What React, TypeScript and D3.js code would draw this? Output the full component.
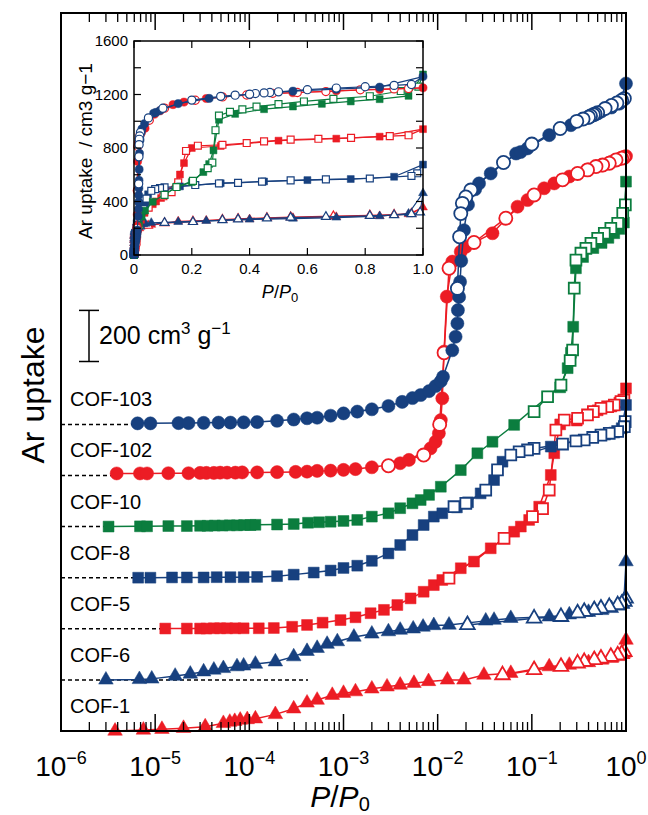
import React from "react";
import * as d3 from "d3";

type Pt = [number, number];

// ---- data: [P/P0, Ar uptake (cm3 g-1)] ----
const cof103Ads: Pt[] = [
  [6.5e-6, 4], [8.9e-6, 4], [1.77e-5, 5], [2.26e-5, 5], [3.27e-5, 6], [4.7e-5, 7], [6.3e-5, 7], [8.7e-5, 8],
  [1.21e-4, 9], [1.97e-4, 14], [2.96e-4, 19], [4.1e-4, 24], [5.25e-4, 26], [7.3e-4, 34], [1.0e-3, 43], [1.4e-3, 50],
  [2.0e-3, 59], [3.0e-3, 72], [4.2e-3, 88], [5.4e-3, 103], [6.6e-3, 115], [8.1e-3, 130], [9.5e-3, 150], [0.0108, 169],
  [0.0114, 186], [0.0143, 290], [0.0155, 343], [0.0162, 395], [0.0164, 447], [0.0169, 499], [0.0173, 558], [0.0178, 640],
  [0.019, 760], [0.021, 860], [0.025, 920], [0.0275, 943], [0.0366, 982], [0.068, 1060], [0.076, 1066], [0.09, 1080],
  [0.153, 1132], [0.26, 1171], [0.4, 1200], [0.55, 1225], [0.7, 1240], [0.85, 1255], [1.0, 1334],
];
const cof103Des: Pt[] = [
  [0.96, 1275], [0.9, 1268], [0.8, 1258], [0.7, 1248], [0.6, 1236], [0.5, 1220], [0.47, 1215], [0.45, 1212],
  [0.42, 1207], [0.4, 1202], [0.35, 1195], [0.3, 1186], [0.2, 1158], [0.1, 1097], [0.05, 1025], [0.0225, 917],
  [0.0199, 890], [0.0183, 865], [0.0176, 825], [0.0171, 734], [0.0162, 532],
];
const cof102Ads: Pt[] = [
  [3.9e-6, 8], [6.9e-6, 8], [8.2e-6, 8], [1.38e-5, 9], [2.26e-5, 9], [3.0e-5, 10], [3.5e-5, 10], [4.2e-5, 10],
  [4.9e-5, 11], [5.8e-5, 11], [7.1e-5, 11], [8.4e-5, 12], [1.21e-4, 12], [1.97e-4, 13], [3.1e-4, 14], [4.1e-4, 15],
  [5.25e-4, 18], [7.3e-4, 19], [1.0e-3, 22], [1.34e-3, 25], [2.0e-3, 32], [4.0e-3, 48], [4.95e-3, 61], [8.4e-3, 106],
  [9.5e-3, 132], [0.0103, 165], [0.0108, 217], [0.0112, 302], [0.0117, 485], [0.0125, 700], [0.0143, 837], [0.0176, 876],
  [0.0199, 895], [0.0382, 948], [0.0705, 1052], [0.09, 1078], [0.135, 1124], [0.173, 1143], [0.25, 1170], [0.4, 1198],
  [0.55, 1213], [0.7, 1228], [0.85, 1238], [1.0, 1250],
];
const cof102Des: Pt[] = [
  [0.95, 1245], [0.9, 1242], [0.783, 1235], [0.664, 1222], [0.565, 1215], [0.48, 1209], [0.39, 1196], [0.306, 1182],
  [0.212, 1157], [0.1057, 1098], [0.0529, 1007], [0.0243, 912], [0.0132, 811], [0.0117, 480], [0.0105, 200],
  [7.1e-3, 80], [3.0e-3, 38],
];
const cof10Ads: Pt[] = [
  [3.2e-6, 0], [6.9e-6, 1], [8.2e-6, 1], [1.38e-5, 2], [2.17e-5, 2], [3.0e-5, 3], [3.6e-5, 3], [4.3e-5, 4],
  [5.2e-5, 4], [6.2e-5, 5], [7.4e-5, 5], [8.8e-5, 6], [1.03e-4, 6], [1.16e-4, 7], [1.97e-4, 8], [2.96e-4, 10],
  [4.2e-4, 15], [5.5e-4, 17], [7.3e-4, 19], [1.0e-3, 22], [1.4e-3, 26], [2.0e-3, 39], [3.0e-3, 52], [4.0e-3, 72],
  [5.4e-3, 91], [6.6e-3, 104], [8.1e-3, 124], [0.0108, 156], [0.0176, 221], [0.0264, 287], [0.0382, 332], [0.0649, 398],
  [0.147, 508], [0.2, 545], [0.24, 620], [0.26, 680], [0.275, 782], [0.294, 1011], [0.35, 1055], [0.45, 1090],
  [0.55, 1110], [0.65, 1130], [0.75, 1148], [0.85, 1165], [0.95, 1190], [1.0, 1350],
];
const cof10Des: Pt[] = [
  [0.984, 1259], [0.923, 1226], [0.816, 1187], [0.69, 1167], [0.588, 1148], [0.5, 1128], [0.424, 1109], [0.375, 1089],
  [0.332, 1070], [0.294, 1043], [0.282, 933], [0.271, 691], [0.255, 650], [0.204, 554], [0.147, 508], [0.1057, 450],
];
const cof8Ads: Pt[] = [
  [6.6e-6, 0], [8.9e-6, 0], [1.51e-5, 1], [2.17e-5, 1], [3.27e-5, 1], [4.5e-5, 2], [6.3e-5, 2], [8.7e-5, 2],
  [1.21e-4, 3], [1.97e-4, 6], [2.96e-4, 12], [4.83e-4, 20], [7.3e-4, 28], [1.0e-3, 38], [1.4e-3, 47], [2.0e-3, 66],
  [3.0e-3, 95], [4.0e-3, 128], [5.4e-3, 167], [7.1e-3, 206], [9.1e-3, 239], [0.0112, 252], [0.016, 275], [0.021, 295],
  [0.0286, 330], [0.0397, 382], [0.0488, 454], [0.159, 513], [0.3, 537], [0.45, 550], [0.6, 560], [0.75, 568],
  [0.9, 585], [1.0, 676],
];
const cof8Des: Pt[] = [
  [0.98, 611], [0.96, 591], [0.816, 572], [0.664, 565], [0.542, 558], [0.443, 549], [0.36, 539], [0.294, 535],
  [0.212, 523], [0.1057, 506], [0.09, 500], [0.0733, 493], [0.0598, 480], [0.0432, 422], [0.0324, 343], [0.0199, 291],
  [0.0149, 278],
];
const cof5Ads: Pt[] = [
  [1.28e-5, 1], [2.17e-5, 1], [3.0e-5, 1], [3.5e-5, 1], [4.2e-5, 2], [4.9e-5, 2], [5.8e-5, 2], [7.1e-5, 2],
  [8.7e-5, 2], [1.26e-4, 2], [1.82e-4, 3], [2.85e-4, 8], [4.1e-4, 15], [6.0e-4, 24], [9.3e-4, 34], [1.34e-3, 45],
  [1.94e-3, 61], [2.69e-3, 74], [3.73e-3, 93], [5.16e-3, 119], [7.1e-3, 145], [9.1e-3, 171], [0.0112, 191], [0.0176, 237],
  [0.0243, 263], [0.0366, 315], [0.0649, 380], [0.0764, 400], [0.0936, 426], [0.1197, 478], [0.159, 602], [0.173, 687],
  [0.2, 800], [0.3, 815], [0.5, 855], [0.7, 870], [0.85, 885], [1.0, 941],
];
const cof5Des: Pt[] = [
  [0.95, 895], [0.885, 889], [0.751, 876], [0.638, 869], [0.542, 863], [0.45, 850], [0.39, 837], [0.306, 824],
  [0.221, 817], [0.18, 778], [0.153, 543], [0.13, 470], [0.1016, 439], [0.0507, 354], [0.0132, 198],
];
const cof6Ads: Pt[] = [
  [3.0e-6, 0], [6.8e-6, 2], [9.2e-6, 4], [1.63e-5, 15], [2.36e-5, 23], [3.27e-5, 32], [4.2e-5, 39], [5.3e-5, 45],
  [7.4e-5, 52], [8.7e-5, 55], [1.16e-4, 62], [1.89e-4, 71], [2.96e-4, 91], [4.1e-4, 112], [5.25e-4, 124], [6.7e-4, 140],
  [8.6e-4, 150], [1.29e-3, 168], [2.0e-3, 180], [3.0e-3, 189], [4.0e-3, 195], [5.5e-3, 200], [7.0e-3, 207], [9.1e-3, 213],
  [0.0132, 215], [0.0324, 231], [0.0397, 234], [0.0598, 241], [0.153, 247], [0.25, 255], [0.4, 265], [0.55, 272],
  [0.7, 280], [0.85, 290], [0.95, 310], [1.0, 463],
];
const cof6Des: Pt[] = [
  [0.99, 319], [0.96, 306], [0.9, 298], [0.816, 293], [0.664, 286], [0.542, 280], [0.46, 274], [0.36, 267],
  [0.306, 261], [0.204, 247], [0.1057, 241], [0.0207, 215],
];
const cof1Ads: Pt[] = [
  [3.75e-6, 0], [7.5e-6, 4], [1.18e-5, 7], [2.0e-5, 11], [3.4e-5, 17], [5.3e-5, 30], [6.2e-5, 35], [7.0e-5, 38],
  [8.0e-5, 43], [9.5e-5, 45], [1.16e-4, 48], [1.89e-4, 65], [2.96e-4, 87], [4.1e-4, 110], [5.25e-4, 121], [7.6e-4, 140],
  [1.0e-3, 148], [1.34e-3, 154], [2.0e-3, 165], [2.9e-3, 173], [4.0e-3, 180], [5.6e-3, 187], [8.0e-3, 194], [0.0127, 200],
  [0.019, 200], [0.031, 219], [0.0598, 226], [0.153, 252], [0.25, 258], [0.4, 268], [0.55, 278], [0.7, 285],
  [0.85, 292], [0.95, 305], [1.0, 356],
];
const cof1Des: Pt[] = [
  [0.96, 310], [0.9, 302], [0.816, 297], [0.69, 291], [0.542, 284], [0.46, 278], [0.36, 271], [0.306, 265],
  [0.204, 252], [0.1057, 239], [0.0488, 219],
];

const seriesNames = ["COF-103", "COF-102", "COF-10", "COF-8", "COF-5", "COF-6", "COF-1"];
const seriesOffsets = [1200, 1000, 800, 600, 400, 200, 0];
const baselineEnds = [6e-6, 3.9e-6, 3.2e-6, 6.6e-6, 1.28e-5, 4.2e-4, 0];
const adsData = [cof103Ads, cof102Ads, cof10Ads, cof8Ads, cof5Ads, cof6Ads, cof1Ads];
const desData = [cof103Des, cof102Des, cof10Des, cof8Des, cof5Des, cof6Des, cof1Des];
const xExponents = [-6, -5, -4, -3, -2, -1, 0];
const insetXTicks = [0, 0.2, 0.4, 0.6, 0.8, 1.0];
const insetYTicks = [0, 400, 800, 1200, 1600];
const scaleBarValue = 200;

// ---- styles ----
const BLUE = "#17407f";
const RED = "#ec1c24";
const GREEN = "#0b7d3e";
const seriesColors = [BLUE, RED, GREEN, BLUE, RED, BLUE, RED];
const seriesShapes = ["circle", "circle", "square", "square", "square", "triangle", "triangle"];
const FONT = "'Liberation Sans', Arial, Helvetica, sans-serif";

const W = 648, H = 815;
const M = { left: 61, right: 626, top: 13, bottom: 731 };
const I = { left: 134, right: 423, top: 41, bottom: 255 };

const x = d3.scaleLog().domain([1e-6, 1]).range([M.left, M.right]);
const y = d3.scaleLinear().domain([0, 2810]).range([M.bottom, M.top]);
const ix = d3.scaleLinear().domain([0, 1]).range([I.left, I.right]);
const iy = d3.scaleLinear().domain([0, 1600]).range([I.bottom, I.top]);

function symPath(shape: string, size: number): string {
  const t = shape === "circle" ? d3.symbolCircle : shape === "square" ? d3.symbolSquare : d3.symbolTriangle;
  return d3.symbol().type(t).size(size)() as string;
}

const mainSizes: Record<string, number> = { circle: 135, square: 118, triangle: 92 };
const insetSizes: Record<string, number> = { circle: 52, square: 48, triangle: 34 };

function Series({ i, inset }: { i: number; inset: boolean }) {
  const col = seriesColors[i];
  const shape = seriesShapes[i];
  const off = inset ? 0 : seriesOffsets[i];
  const fx = (p: number) => (inset ? ix(p) : x(p));
  const fy = (v: number) => (inset ? iy(v) : y(v + off));
  const line = d3.line<Pt>().x((d) => fx(d[0])).y((d) => fy(d[1]));
  const ads = adsData[i];
  const des = desData[i];
  const desLine = [ads[ads.length - 1], ...des];
  const path = symPath(shape, inset ? insetSizes[shape] : mainSizes[shape]);
  const lw = inset ? 1.2 : 1.5;
  const mw = inset ? 1.2 : 1.8;
  return (
    <g>
      <path d={line(ads) || ""} fill="none" stroke={col} strokeWidth={lw} />
      <path d={line(desLine) || ""} fill="none" stroke={col} strokeWidth={lw} />
      {ads.map((d, k) => (
        <path key={"a" + k} d={path} transform={`translate(${fx(d[0])},${fy(d[1])})`} fill={col} stroke={col} strokeWidth={0.5} />
      ))}
      {des.map((d, k) => (
        <path key={"d" + k} d={path} transform={`translate(${fx(d[0])},${fy(d[1])})`} fill="#fff" stroke={col} strokeWidth={mw} />
      ))}
    </g>
  );
}

export default function App() {
  const order = [6, 5, 4, 3, 2, 1, 0];
  const majors = xExponents.map((e) => Math.pow(10, e));
  const minors: number[] = [];
  for (let e = -6; e < 0; e++) for (let k = 2; k <= 9; k++) minors.push(k * Math.pow(10, e));
  const barBottom = 361.5;
  const barTop = barBottom - (y(0) - y(scaleBarValue));
  const barX = 89;

  return (
    <svg width={W} height={H} style={{ position: "absolute", left: 0, top: 0, background: "#fff" }} fontFamily={FONT}>
      <rect x={0} y={0} width={W} height={H} fill="#fff" />
      {/* dashed zero lines */}
      {seriesOffsets.map((o, i) =>
        baselineEnds[i] > 0 ? (
          <line key={"bl" + i} x1={M.left} x2={x(baselineEnds[i])} y1={y(o)} y2={y(o)} stroke="#000" strokeWidth={1.5} strokeDasharray="4,3" />
        ) : null
      )}
      {/* series labels */}
      {seriesNames.map((n, i) => (
        <text key={"lab" + i} x={70} y={y(seriesOffsets[i]) - 18} fontSize={20} fill="#000">{n}</text>
      ))}
      {/* main data */}
      {order.map((i) => <Series key={"m" + i} i={i} inset={false} />)}
      {/* frame */}
      <rect x={M.left} y={M.top} width={M.right - M.left} height={M.bottom - M.top} fill="none" stroke="#000" strokeWidth={2} />
      {majors.map((v, k) => (
        <g key={"mj" + k}>
          <line x1={x(v)} x2={x(v)} y1={M.top} y2={M.top + 17} stroke="#000" strokeWidth={1.5} />
          <line x1={x(v)} x2={x(v)} y1={M.bottom} y2={M.bottom - 17} stroke="#000" strokeWidth={1.5} />
        </g>
      ))}
      {minors.map((v, k) => (
        <g key={"mn" + k}>
          <line x1={x(v)} x2={x(v)} y1={M.top} y2={M.top + 9} stroke="#000" strokeWidth={1.3} />
          <line x1={x(v)} x2={x(v)} y1={M.bottom} y2={M.bottom - 9} stroke="#000" strokeWidth={1.3} />
        </g>
      ))}
      {/* x tick labels */}
      {xExponents.map((e, k) => (
        <text key={"xl" + k} x={x(Math.pow(10, e))} y={776} fontSize={28} textAnchor="middle" fill="#000">
          10<tspan fontSize={18} dy={-12}>{e === 0 ? "0" : "\u2212" + Math.abs(e)}</tspan>
        </text>
      ))}
      {/* x title */}
      <text x={340} y={807} fontSize={30} textAnchor="middle" fill="#000">
        <tspan fontStyle="italic">P</tspan>/<tspan fontStyle="italic">P</tspan>
        <tspan fontSize={20} dy={4}>0</tspan>
      </text>
      {/* y title */}
      <text transform={`translate(44,395) rotate(-90)`} fontSize={32} textAnchor="middle" fill="#000">Ar uptake</text>
      {/* scale bar */}
      <line x1={barX} x2={barX} y1={barTop} y2={barBottom} stroke="#000" strokeWidth={1.5} />
      <line x1={barX - 10} x2={barX + 10} y1={barTop} y2={barTop} stroke="#000" strokeWidth={1.5} />
      <line x1={barX - 10} x2={barX + 10} y1={barBottom} y2={barBottom} stroke="#000" strokeWidth={1.5} />
      <text x={99} y={344} fontSize={25} fill="#000">
        200 cm<tspan fontSize={17} dy={-10}>3</tspan>
        <tspan dy={10}> g</tspan>
        <tspan fontSize={17} dy={-10}>{"\u22121"}</tspan>
      </text>

      {/* inset */}
      <rect x={I.left} y={I.top} width={I.right - I.left} height={I.bottom - I.top} fill="#fff" stroke="none" />
      {order.map((i) => <Series key={"in" + i} i={i} inset={true} />)}
      <rect x={I.left} y={I.top} width={I.right - I.left} height={I.bottom - I.top} fill="none" stroke="#000" strokeWidth={1.5} />
      {insetXTicks.map((v, k) => (
        <g key={"ixt" + k}>
          <line x1={ix(v)} x2={ix(v)} y1={I.bottom} y2={I.bottom - 7} stroke="#000" strokeWidth={1.2} />
          <line x1={ix(v)} x2={ix(v)} y1={I.top} y2={I.top + 7} stroke="#000" strokeWidth={1.2} />
          <text x={ix(v)} y={274} fontSize={15} textAnchor="middle" fill="#000">{v === 0 ? "0" : v.toFixed(1)}</text>
        </g>
      ))}
      {d3.range(0, 1601, 200).map((v, k) => (
        <g key={"iyt" + k}>
          <line x1={I.left} x2={I.left + 7} y1={iy(v)} y2={iy(v)} stroke="#000" strokeWidth={1.2} />
          <line x1={I.right} x2={I.right - 7} y1={iy(v)} y2={iy(v)} stroke="#000" strokeWidth={1.2} />
        </g>
      ))}
      {insetYTicks.map((v, k) => (
        <text key={"iyl" + k} x={128} y={iy(v) + 5} fontSize={15} textAnchor="end" fill="#000">{v}</text>
      ))}
      <text x={280} y={298} fontSize={18} textAnchor="middle" fill="#000">
        <tspan fontStyle="italic">P</tspan>/<tspan fontStyle="italic">P</tspan>
        <tspan fontSize={13} dy={4}>0</tspan>
      </text>
      <text transform={`translate(92,151) rotate(-90)`} fontSize={19} textAnchor="middle" fill="#000">
        {"Ar uptake\u00a0\u00a0/ cm3 g\u22121"}
      </text>
    </svg>
  );
}
